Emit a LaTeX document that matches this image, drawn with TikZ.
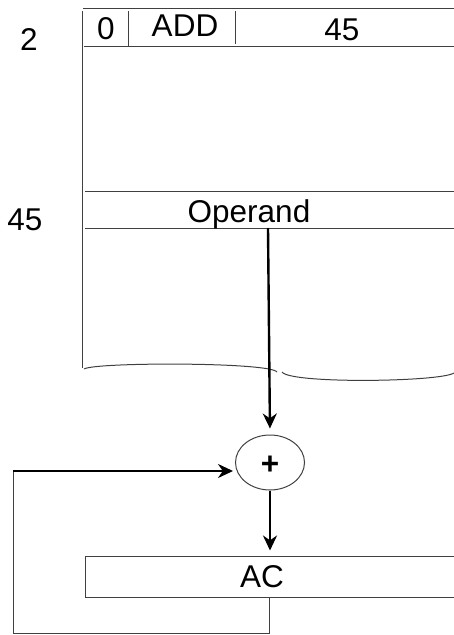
\documentclass[tikz,border=0pt]{standalone}
\usepackage{fontspec}
\setmainfont{Liberation Sans}
\usepackage{tikz}
\usetikzlibrary{shapes,arrows,arrows.meta,positioning}

\begin{document}
\begin{tikzpicture}[x=1pt, y=-1pt,
    memline/.style={draw=black!75, line width=1pt},
    flow/.style={-{Stealth[length=15pt,width=14pt]}, line width=2.4pt},
    lbl/.style={anchor=base, inner sep=0pt, font=\fontsize{31.5}{36}\selectfont}]
    \useasboundingbox (0,0) rectangle (454,635);

    % memory words
    \draw[memline] (82,11) -- (82,368);
    \draw[memline] (83,8) -- (454,8);
    \draw[memline] (84,46) -- (454,46);
    \draw[memline] (128,11) -- (128,47);
    \draw[memline] (235,11) -- (235,44);
    \draw[memline] (85,191) -- (454,191);
    \draw[memline] (85,228) -- (454,228);
    \draw[memline] (84,369) .. controls (95,362) and (270,362) .. (277,372);
    \draw[memline] (282,372) .. controls (290,384) and (440,382) .. (454,373);

    \node[lbl] (opcode) at (106,39) {0};
    \node[lbl] (opname) at (185,36) {ADD};
    \node[lbl] (addr) at (342,40) {45};
    \node[lbl] (loctwo) at (29,50) {2};
    \node[lbl] (locop) at (25,230) {45};
    \node[lbl] (operand) at (249,222) {Operand};
    \coordinate (opbot) at (268,228);

    % adder and accumulator
    \node[draw=black!75, line width=1pt, ellipse, minimum width=69pt, minimum height=55pt, inner sep=0pt] (plus) at (270,462.5) {};
    \node[lbl, font=\fontsize{31.5}{36}\selectfont\bfseries] (plustext) at (270,474) {+};
    \node[draw=black!75, line width=1pt, rectangle, minimum width=372pt, minimum height=41pt, inner sep=0pt] (ac) at (271,576.5) {};
    \node[lbl] (actext) at (262,587) {AC};
    \coordinate (fbturn) at (13,471);

    \draw[flow, shorten >=6pt] (opbot) -- (plus.north);
    \draw[flow, shorten >=5pt] (plus.south) -- (ac.north -| plus.south);
    \draw[memline] (ac.south -| 269,0) -- (269,633) -- (13,633) -- (fbturn);
    \draw[flow, shorten >=2pt] (fbturn) -- (plus.west |- fbturn);
\end{tikzpicture}
\end{document}
